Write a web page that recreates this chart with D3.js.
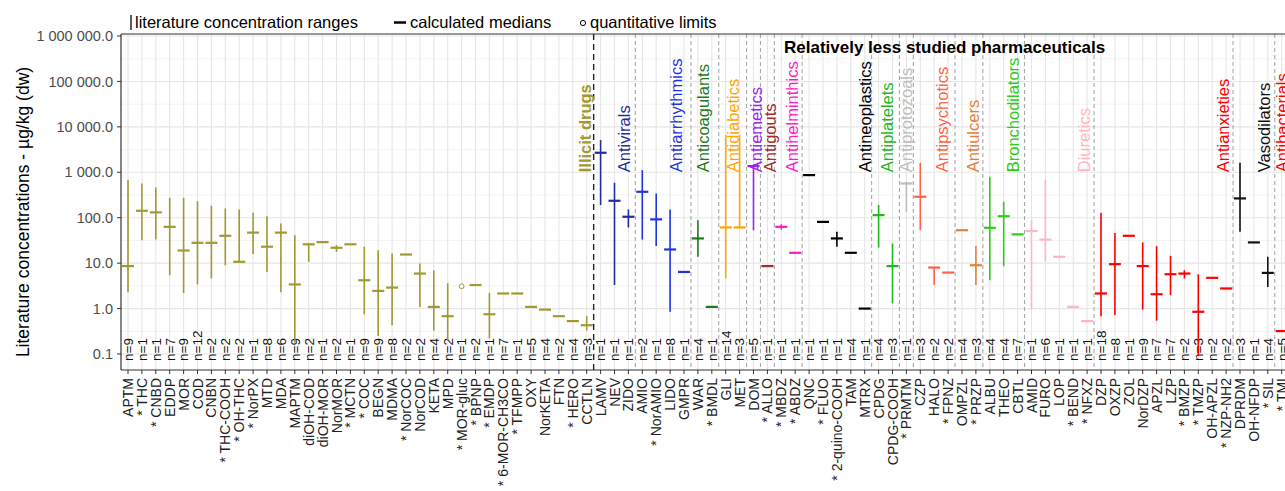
<!DOCTYPE html>
<html><head><meta charset="utf-8">
<script src="https://cdn.jsdelivr.net/npm/d3@7"></script>
<style>body{margin:0;background:#fff;} svg{display:block;font-family:"Liberation Sans",Arial,sans-serif;}</style>
</head><body><svg id="c" width="1285" height="491"></svg>
<script>
const drugs = ["APTM","* THC","* CNBD","EDDP","MOR","COD","CNBN","* THC-COOH","* OH-THC","* NorPX","MTD","MDA","MAPTM","diOH-COD","diOH-MOR","NorMOR","* MCTN","* COC","BEGN","MDMA","* NorCOC","NorCOD","KETA","MPD","* MOR-gluc","* BPNP","* EMDP","* 6-MOR-CH3CO","* TFMPP","OXY","NorKETA","FTN","* HERO","CCTLN",
"LAMV","NEV","ZIDO","AMIO","* NorAMIO","LIDO","GMPR","WAR","* BMDL","GLI","MET","DOM","* ALLO","* MBDZ","* ABDZ","QNC","* FLUO","* 2-quino-COOH","TAM","MTRX","CPDG","CPDG-COOH","* PRMTM","CZP","HALO","* FPNZ","OMPZL","* PRZP","ALBU","THEO","CBTL","AMID","FURO","LOP","* BEND","* NFXZ","DZP","OXZP","ZOL","NorDZP","APZL","LZP","* BMZP","* TMZP","OH-APZL","* NZP-NH2","DPRDM","OH-NFDP","* SIL","* TMI"];
const drugGroup = [0,0,0,0,0,0,0,0,0,0,0,0,0,0,0,0,0,0,0,0,0,0,0,0,0,0,0,0,0,0,0,0,0,0,
1,1,1,2,2,2,2,3,3,4,4,5,6,7,7,8,8,8,8,8,9,9,10,11,11,11,12,12,13,13,13,14,14,14,14,14,15,15,15,15,15,15,15,15,15,15,16,16,16,17];
const lows = [2.3,32,33,5.4,2.2,3.4,4.6,9.0,10.7,16,6.4,2.3,0.18,10.7,29,17.7,26,0.75,0.25,0.43,15.5,1.09,0.33,0.2,null,3.3,0.22,2.15,2.15,1.09,0.95,0.68,0.53,0.33,
190,3.3,61,33,23.7,0.85,6.4,13.8,1.09,4.6,61,53,8.6,55,16.9,867,81,23,16.9,1.0,22,1.3,135,53,3.3,6.2,53,3.3,4.2,8.6,43,0.95,10.7,13.8,1.09,0.53,0.68,0.72,40,0.95,0.54,1.97,4.6,0.09,4.75,2.77,49,28.6,3.0,0.32];
const medians = [8.6,142,131,63,19,28,28,40,10.7,47,23,47,3.4,26,29,21.8,26,4.2,2.45,2.9,15.5,5.9,1.09,0.68,null,3.3,0.75,2.15,2.15,1.09,0.95,0.68,0.53,0.43,
2690,236,105,372,92,20,6.4,35,1.09,61,61,1370,8.6,63,16.9,867,81,35,16.9,1.0,114,8.6,567,289,8.0,6.2,53,9.0,60,108,43,51,33,13.8,1.09,0.53,2.15,9.5,40,8.6,2.07,5.7,5.9,0.85,4.75,2.77,266,28.6,6.1,0.32];
const highs = [676,569,465,275,275,232,183,160,152,128,108,75,41,28,29,24.9,26,22.9,19.3,16.3,15.5,9.8,7.0,3.6,null,3.3,2.2,2.15,2.15,1.09,0.95,0.68,0.53,0.68,
5120,588,152,1117,343,152,6.4,88,1.09,6600,6600,1370,8.6,72,16.9,867,81,49,16.9,1.0,190,27,618,1620,8.3,6.2,53,23.7,796,224,43,88,676,13.8,1.09,0.53,128,46,40,28.6,23.7,14.5,7.0,5.7,4.75,2.77,1620,28.6,13.8,0.32];
const nCounts = [9,1,1,7,9,12,2,2,2,1,8,6,9,2,1,2,1,9,9,8,2,2,4,2,1,2,1,7,1,5,4,2,4,3,
1,1,1,2,1,8,1,4,1,14,3,5,1,1,1,1,1,1,4,1,4,3,1,3,2,2,4,3,4,4,7,1,6,1,1,1,18,8,1,9,7,7,2,3,2,2,3,1,4,5];
const quantLimits = drugs.map(d => d === "* MOR-gluc" ? 3.1 : null);
const groupNames = ["Illicit drugs","Antivirals","Antiarrhythmics","Anticoagulants","Antidiabetics","Antiemetics","Antigouts","Antihelminthics","Antineoplastics","Antiplatelets","Antiprotozoals","Antipsychotics","Antiulcers","Bronchodilators","Diuretics","Antianxieties","Vasodilators","Antibacterials"];
const groupColors = ["#A09A30","#1F2D9E","#1F35E0","#1E7A1E","#FFA500","#A020F0","#A52A2A","#FF1AC6","#000000","#1EB81E","#BEBEBE","#FF6347","#E0823A","#2ECC1A","#FFB6C1","#FF0000","#111111","#FF0000"];
const groupLabelPos = [32.9,35.7,39.4,41.4,43.5,45.2,46.2,47.8,53.0,54.6,56.0,58.6,60.8,63.7,68.8,78.8,81.7,83.0];
const yTicks = [0.1,1,10,100,1000,10000,100000,1000000];
const legendItems = ["literature concentration ranges","calculated medians","quantitative limits"];
const subtitle = "Relatively less studied pharmaceuticals";
const yTitle = "Literature concentrations - µg/kg (dw)";

const svg = d3.select("#c");
const P = {left:121, right:1300, top:34, bottom:370};
const step = 13.9;
const x = d3.scalePoint().domain(drugs).range([P.left+7, P.left+7+step*(drugs.length-1)]);
const xi = d3.scaleLinear().domain([0, drugs.length-1]).range(x.range());
const y = d3.scaleLog().domain([Math.pow(10,-1.352), Math.pow(10,6.044)]).range([P.bottom, P.top]);

svg.append("defs").append("clipPath").attr("id","clip").append("rect")
  .attr("x",P.left).attr("y",P.top).attr("width",P.right-P.left).attr("height",P.bottom-P.top);

const grid = svg.append("g");
for (let k=-1;k<6;k++){ const v=Math.pow(10,k+0.5);
  grid.append("line").attr("x1",P.left).attr("x2",P.right).attr("y1",y(v)).attr("y2",y(v)).attr("stroke","#F0F0F0").attr("stroke-width",0.8);}
yTicks.forEach(v=>grid.append("line").attr("x1",P.left).attr("x2",P.right).attr("y1",y(v)).attr("y2",y(v)).attr("stroke","#E6E6E6").attr("stroke-width",1.1));
drugs.forEach(d=>grid.append("line").attr("x1",x(d)).attr("x2",x(d)).attr("y1",P.top).attr("y2",P.bottom).attr("stroke","#E6E6E6").attr("stroke-width",1.1));

for (let i=1;i<drugs.length;i++){
  if (drugGroup[i]!==drugGroup[i-1]){
    const xs = xi(i-0.5);
    const black = drugGroup[i-1]===0;
    svg.append("line").attr("x1",xs).attr("x2",xs).attr("y1",P.top).attr("y2",P.bottom)
      .attr("stroke", black?"#222":"#A8A8A8").attr("stroke-width", black?1.4:1.1)
      .attr("stroke-dasharray", black?"6,4":"4,3");
  }
}

svg.append("g").selectAll("text").data(drugs).join("text")
  .attr("transform",d=>`translate(${x(d)},361) rotate(-90)`)
  .attr("dy","0.36em").attr("font-size",13.5).attr("fill","#111")
  .text((d,i)=>"n="+nCounts[i]);

const marks = svg.append("g").attr("clip-path","url(#clip)");
drugs.forEach((d,i)=>{
  const c = groupColors[drugGroup[i]];
  if (lows[i]!=null && highs[i]!=null && highs[i]>lows[i]){
    marks.append("line").attr("x1",x(d)).attr("x2",x(d)).attr("y1",y(lows[i])).attr("y2",y(highs[i]))
      .attr("stroke",c).attr("stroke-width",1.6);
  }
  if (medians[i]!=null){
    marks.append("line").attr("x1",x(d)-6).attr("x2",x(d)+6).attr("y1",y(medians[i])).attr("y2",y(medians[i]))
      .attr("stroke",c).attr("stroke-width",2.2);
  }
  if (quantLimits[i]!=null){
    marks.append("circle").attr("cx",x(d)).attr("cy",y(quantLimits[i])).attr("r",2.4)
      .attr("fill","#fff").attr("stroke",c).attr("stroke-width",1);
  }
});

groupNames.forEach((g,i)=>{
  svg.append("text").attr("transform",`translate(${xi(groupLabelPos[i])},${y(1000)}) rotate(-90)`)
    .attr("dy","0.36em").attr("font-size",16.5).attr("font-weight",i===0?"bold":"normal")
    .attr("fill",groupColors[i]).text(g);
});
svg.append("text").attr("x",784).attr("y",53).attr("font-size",17).attr("font-weight","bold").attr("fill","#000").text(subtitle);

svg.append("line").attr("x1",P.left).attr("x2",P.right).attr("y1",P.top).attr("y2",P.top).attr("stroke","#333").attr("stroke-width",1.2);
svg.append("line").attr("x1",P.left).attr("x2",P.right).attr("y1",P.bottom).attr("y2",P.bottom).attr("stroke","#333").attr("stroke-width",1.2);
svg.append("line").attr("x1",P.left).attr("x2",P.left).attr("y1",P.top).attr("y2",P.bottom).attr("stroke","#333").attr("stroke-width",1.2);

const fmt = d3.format(",.1f");
const ya = svg.append("g");
yTicks.forEach(v=>{
  ya.append("line").attr("x1",P.left-4).attr("x2",P.left).attr("y1",y(v)).attr("y2",y(v)).attr("stroke","#333");
  ya.append("text").attr("x",P.left-8).attr("y",y(v)).attr("dy","0.35em").attr("text-anchor","end")
    .attr("font-size",14.5).attr("fill","#4D4D4D").text(fmt(v).replace(/,/g," "));
});
svg.append("text").attr("transform",`translate(29,${(P.top+P.bottom)/2+10}) rotate(-90)`).attr("text-anchor","middle")
  .attr("font-size",17.5).attr("fill","#000").text(yTitle);

const xa = svg.append("g");
drugs.forEach(d=>{
  xa.append("line").attr("x1",x(d)).attr("x2",x(d)).attr("y1",P.bottom).attr("y2",P.bottom+4).attr("stroke","#333");
  xa.append("text").attr("transform",`translate(${x(d)},${P.bottom+8}) rotate(-90)`).attr("dy","0.36em")
    .attr("text-anchor","end").attr("font-size",14).attr("fill","#222").text(d);
});

const lg = svg.append("g");
lg.append("line").attr("x1",131).attr("x2",131).attr("y1",15).attr("y2",30).attr("stroke","#000").attr("stroke-width",1.3);
lg.append("text").attr("x",135).attr("y",28).attr("font-size",16.5).text(legendItems[0]);
lg.append("line").attr("x1",394).attr("x2",406).attr("y1",22.5).attr("y2",22.5).attr("stroke","#000").attr("stroke-width",2.5);
lg.append("text").attr("x",410).attr("y",28).attr("font-size",16.5).text(legendItems[1]);
lg.append("circle").attr("cx",583).attr("cy",23).attr("r",2.6).attr("fill","#fff").attr("stroke","#000").attr("stroke-width",1);
lg.append("text").attr("x",590).attr("y",28).attr("font-size",16.5).text(legendItems[2]);
</script></body></html>
